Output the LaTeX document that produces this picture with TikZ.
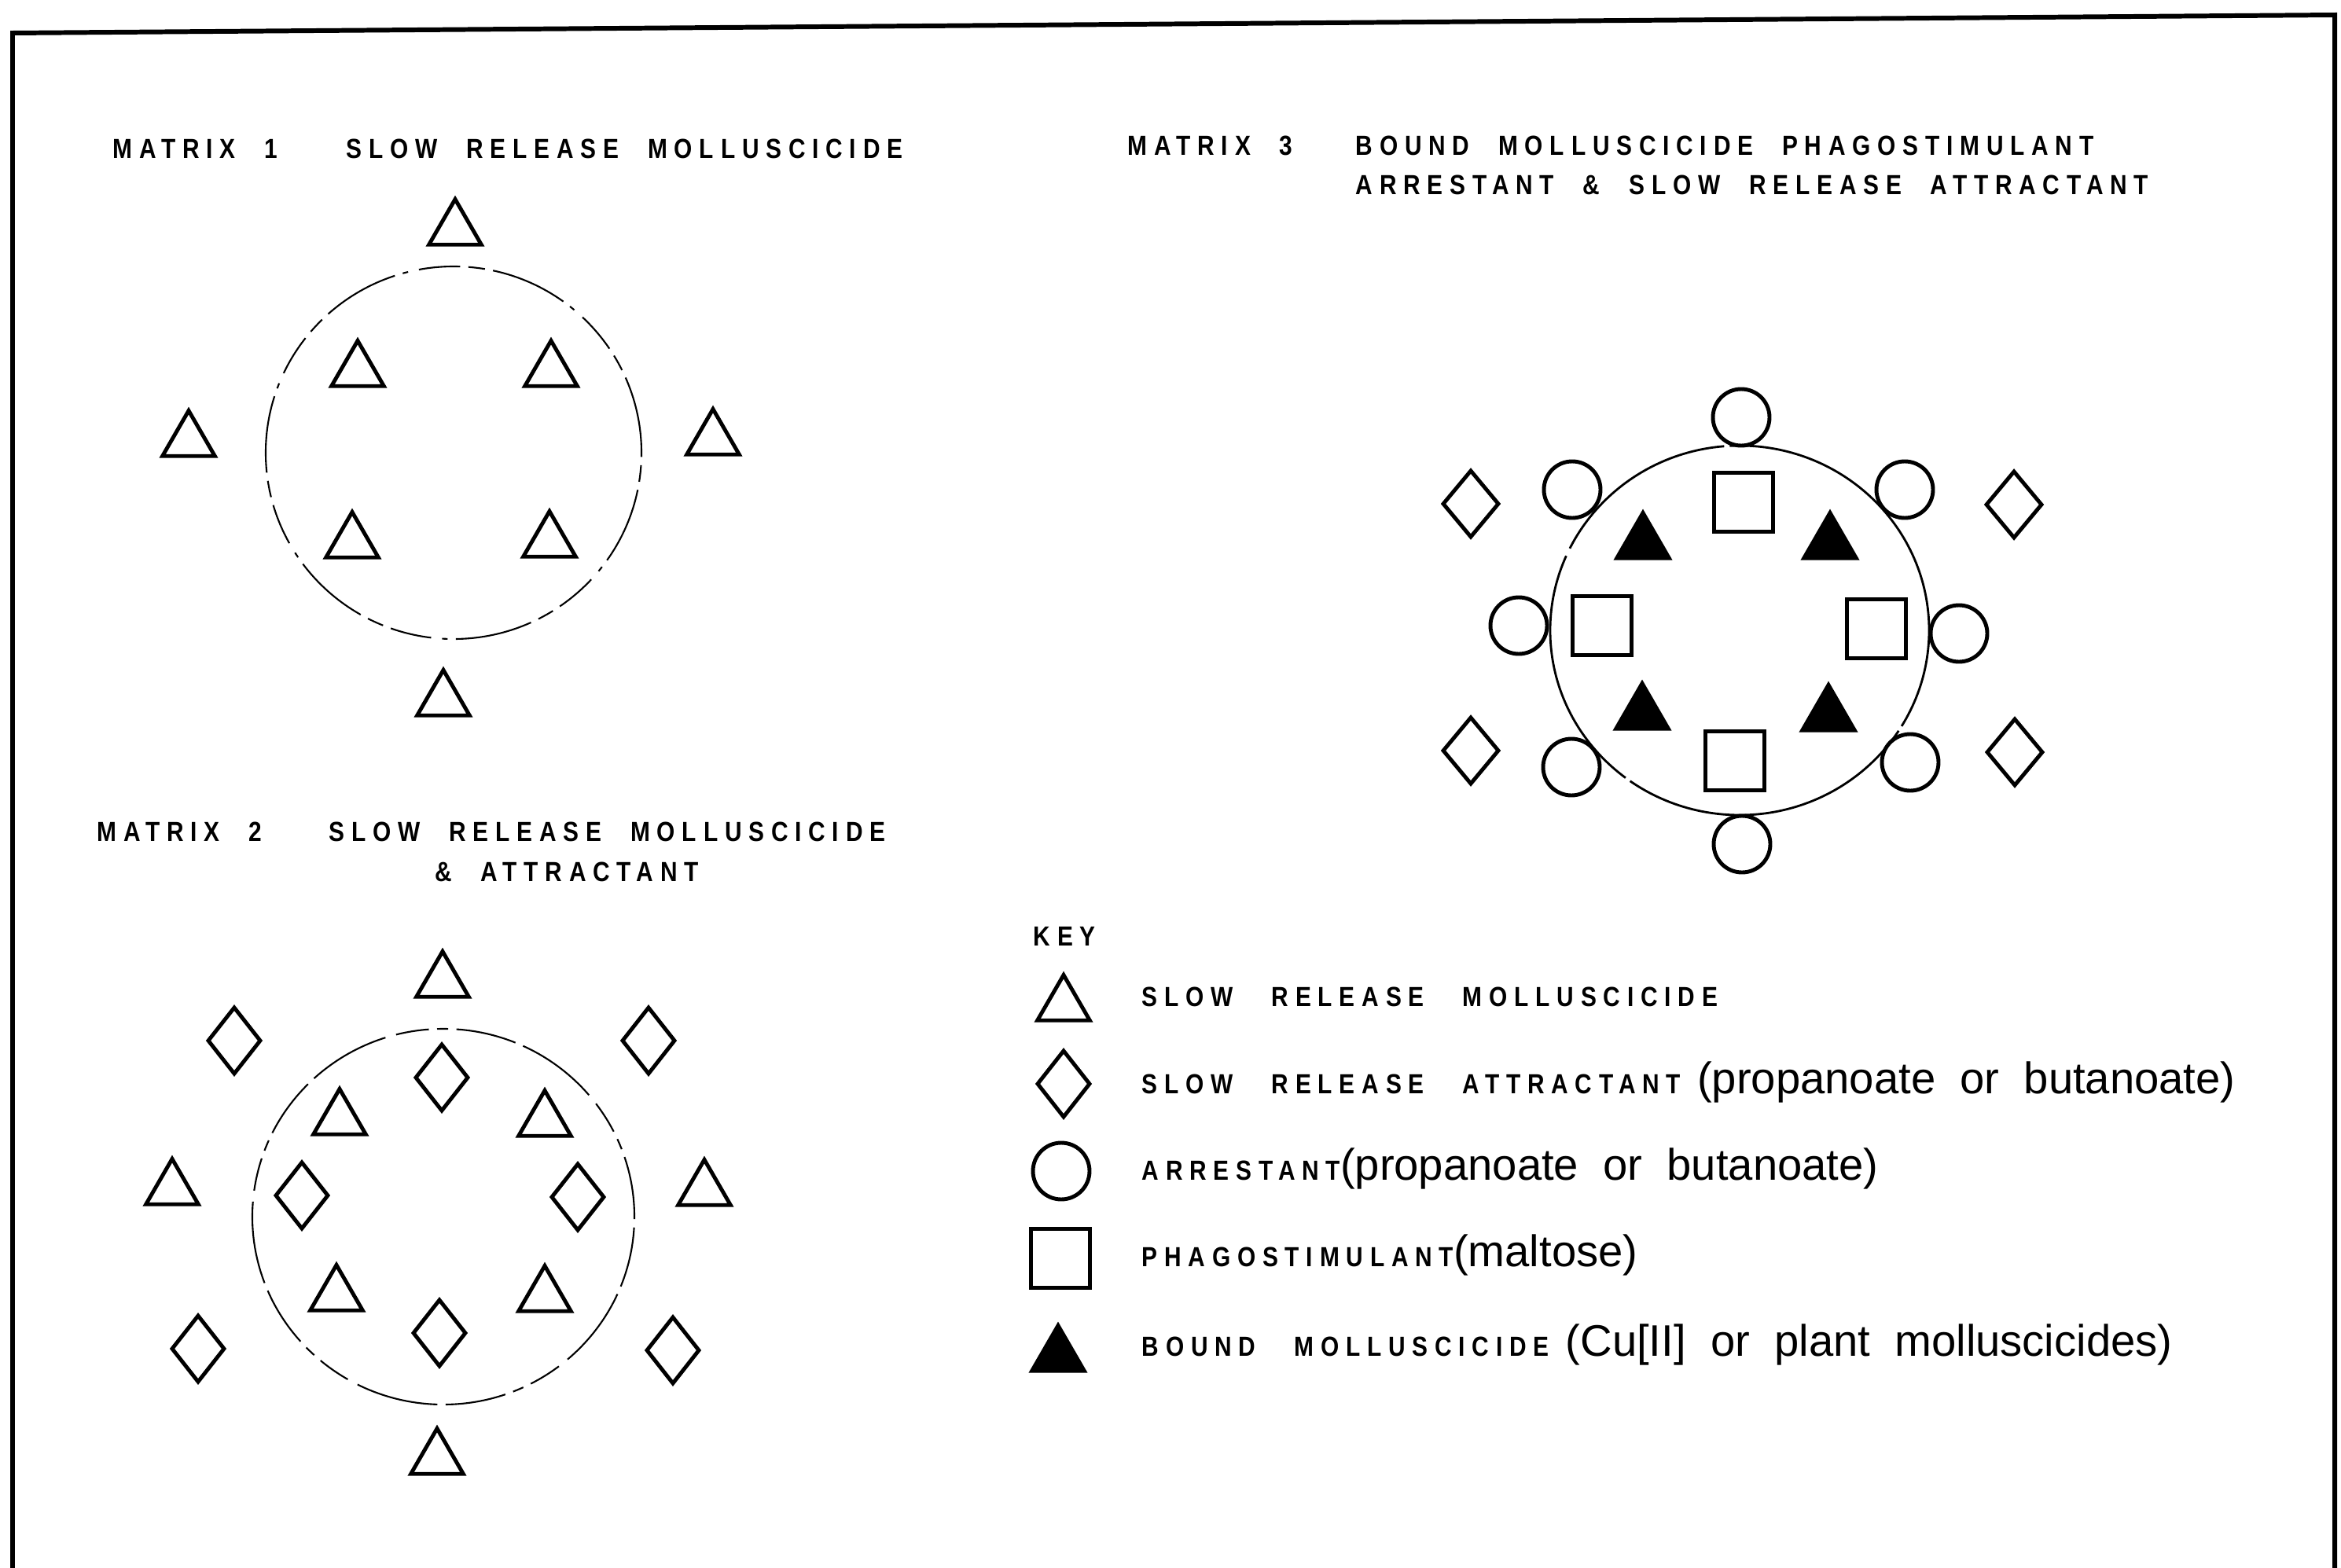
\documentclass[tikz,border=0pt]{standalone}
\usepackage{fontspec}
\usepackage{tikz}
\usetikzlibrary{shapes.geometric}
\newfontfamily\capsfont[FakeStretch=0.85,LetterSpace=25]{Liberation Sans}
\newfontfamily\lowfont[FakeStretch=1.0,WordSpace=2]{Liberation Sans}
\newcommand{\chem}[1]{{\lowfont\mdseries\fontsize{16}{18}\selectfont #1}}
\newcommand{\tgap}{\hspace{1.05em}}
\newcommand{\gap}{\hspace{1.4em}}
\tikzset{
    moll/.style={regular polygon, regular polygon sides=3, draw, line width=1.4pt, minimum size=0.77cm, inner sep=0pt, yshift=-0.1cm},
    bound/.style={moll, fill=black},
    attr/.style={diamond, draw, line width=1.4pt, minimum width=0.68cm, minimum height=0.86cm, inner sep=0pt},
    arrest/.style={ellipse, draw, line width=1.4pt, minimum width=0.72cm, minimum height=0.72cm, inner sep=0pt},
    phago/.style={rectangle, draw, line width=1.4pt, minimum width=0.75cm, minimum height=0.75cm, inner sep=0pt},
    pellet/.style={ellipse, draw, line width=0.6pt, inner sep=0pt},
    title/.style={anchor=base west, inner sep=0pt, font=\capsfont\bfseries\fontsize{10}{12}\selectfont},
    keytext/.style={title},
    frame/.style={line width=1.7pt}
}
\begin{document}
\begin{tikzpicture}
    \useasboundingbox (0,0) rectangle (29.78,-19.95);
    % Frame
    \draw[frame] (0.16,-19.95) -- (0.16,-0.42) -- (29.70,-0.19) -- (29.70,-19.95);

    % Matrix 1
    \node[title] (m1_name) at (1.43,-2.02) {MATRIX\tgap 1};
    \node[title] (m1_title) at (4.40,-2.02) {SLOW\tgap RELEASE\tgap MOLLUSCICIDE};
    \node[pellet, minimum width=4.78cm, minimum height=4.74cm, dash pattern={on 28pt off 3pt on 6pt off 3pt on 15pt off 4pt on 2pt off 3pt}] (m1_ring) at (5.77,-5.76) {};
    \node[moll] (m1_out_n) at (5.79,-2.82) {};
    \node[moll] (m1_out_w) at (2.40,-5.51) {};
    \node[moll] (m1_out_e) at (9.07,-5.49) {};
    \node[moll] (m1_out_s) at (5.64,-8.81) {};
    \node[moll] (m1_in_nw) at (4.55,-4.62) {};
    \node[moll] (m1_in_ne) at (7.01,-4.62) {};
    \node[moll] (m1_in_sw) at (4.48,-6.80) {};
    \node[moll] (m1_in_se) at (6.99,-6.79) {};

    % Matrix 2
    \node[title] (m2_name) at (1.23,-10.70) {MATRIX\tgap 2};
    \node[title] (m2_title) at (4.18,-10.70) {SLOW\tgap RELEASE\tgap MOLLUSCICIDE};
    \node[title, anchor=base] (m2_title2) at (7.21,-11.21) {\&\tgap ATTRACTANT};
    \node[pellet, minimum width=4.86cm, minimum height=4.78cm, dash pattern={on 22pt off 3pt on 4pt off 3pt on 12pt off 4pt on 30pt off 3pt}] (m2_ring) at (5.64,-15.48) {};
    \node[moll] (m2_out_n) at (5.63,-12.39) {};
    \node[moll] (m2_out_w) at (2.19,-15.03) {};
    \node[moll] (m2_out_e) at (8.96,-15.04) {};
    \node[moll] (m2_out_s) at (5.56,-18.46) {};
    \node[moll] (m2_in_nw) at (4.32,-14.14) {};
    \node[moll] (m2_in_ne) at (6.93,-14.16) {};
    \node[moll] (m2_in_sw) at (4.28,-16.38) {};
    \node[moll] (m2_in_se) at (6.93,-16.39) {};
    \node[attr] (m2_att_n) at (5.62,-13.71) {};
    \node[attr] (m2_att_w) at (3.84,-15.21) {};
    \node[attr] (m2_att_e) at (7.35,-15.23) {};
    \node[attr] (m2_att_s) at (5.59,-16.96) {};
    \node[attr] (m2_att_nw) at (2.98,-13.24) {};
    \node[attr] (m2_att_ne) at (8.25,-13.24) {};
    \node[attr] (m2_att_sw) at (2.52,-17.16) {};
    \node[attr] (m2_att_se) at (8.56,-17.18) {};

    % Matrix 3
    \node[title] (m3_name) at (14.34,-1.98) {MATRIX\tgap 3};
    \node[title] (m3_title) at (17.24,-1.98) {BOUND\tgap MOLLUSCICIDE\tgap PHAGOSTIMULANT};
    \node[title] (m3_title2) at (17.24,-2.47) {ARRESTANT\tgap \&\tgap SLOW\tgap RELEASE\tgap ATTRACTANT};
    \node[pellet, line width=0.8pt, minimum width=4.82cm, minimum height=4.70cm, dash pattern={on 110pt off 2pt on 70pt off 3pt on 90pt off 2pt}] (m3_ring) at (22.13,-8.02) {};
    \node[arrest] (m3_arr_n) at (22.15,-5.31) {};
    \node[arrest] (m3_arr_s) at (22.16,-10.74) {};
    \node[arrest] (m3_arr_w) at (19.32,-7.96) {};
    \node[arrest] (m3_arr_e) at (24.92,-8.06) {};
    \node[arrest] (m3_arr_nw) at (20.00,-6.23) {};
    \node[arrest] (m3_arr_ne) at (24.23,-6.23) {};
    \node[arrest] (m3_arr_sw) at (19.99,-9.76) {};
    \node[arrest] (m3_arr_se) at (24.30,-9.70) {};
    \node[phago] (m3_pha_n) at (22.18,-6.39) {};
    \node[phago] (m3_pha_w) at (20.38,-7.96) {};
    \node[phago] (m3_pha_e) at (23.87,-8.00) {};
    \node[phago] (m3_pha_s) at (22.07,-9.68) {};
    \node[bound] (m3_bnd_nw) at (20.90,-6.81) {};
    \node[bound] (m3_bnd_ne) at (23.28,-6.81) {};
    \node[bound] (m3_bnd_sw) at (20.89,-8.98) {};
    \node[bound] (m3_bnd_se) at (23.26,-9.00) {};
    \node[attr, minimum width=0.72cm] (m3_att_nw) at (18.71,-6.41) {};
    \node[attr, minimum width=0.72cm] (m3_att_ne) at (25.62,-6.42) {};
    \node[attr, minimum width=0.72cm] (m3_att_sw) at (18.71,-9.55) {};
    \node[attr, minimum width=0.72cm] (m3_att_se) at (25.63,-9.57) {};

    % Key
    \node[title] (key) at (13.14,-12.03) {KEY};
    \node[moll] (key_moll) at (13.53,-12.69) {};
    \node[attr] (key_attr) at (13.53,-13.79) {};
    \node[arrest] (key_arr) at (13.50,-14.90) {};
    \node[phago] (key_pha) at (13.49,-16.01) {};
    \node[bound] (key_bnd) at (13.46,-17.15) {};
    \node[keytext] (key_moll_txt) at (14.52,-12.80) {SLOW\gap RELEASE\gap MOLLUSCICIDE};
    \node[keytext] (key_attr_txt) at (14.52,-13.91) {SLOW\gap RELEASE\gap ATTRACTANT\hspace{0.6em}\chem{(propanoate or butanoate)}};
    \node[keytext] (key_arr_txt) at (14.52,-15.01) {ARRESTANT\chem{(propanoate or butanoate)}};
    \node[keytext] (key_pha_txt) at (14.52,-16.11) {PHAGOSTIMULANT\chem{(maltose)}};
    \node[keytext] (key_bnd_txt) at (14.52,-17.25) {BOUND\gap MOLLUSCICIDE\hspace{0.6em}\chem{(Cu[II] or plant molluscicides)}};
\end{tikzpicture}
\end{document}
